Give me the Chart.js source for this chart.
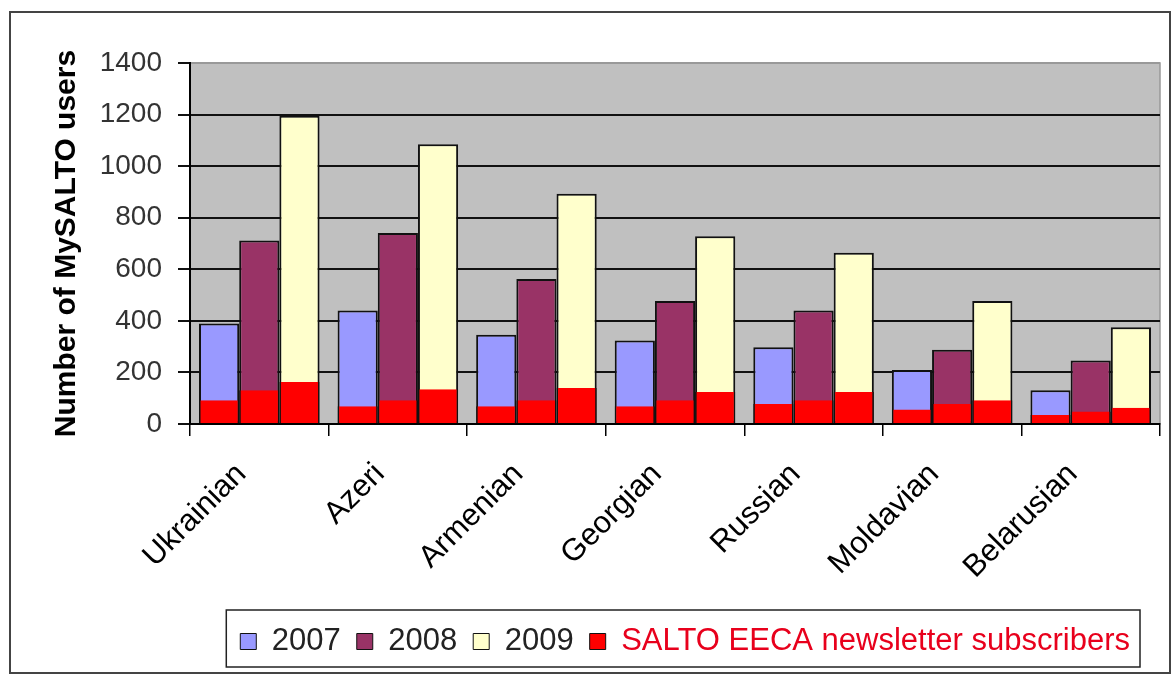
<!DOCTYPE html>
<html>
<head>
<meta charset="utf-8">
<script src="https://cdn.jsdelivr.net/npm/chart.js@4.4.1/dist/chart.umd.min.js"></script>
<style>
  html, body { margin: 0; padding: 0; background: #fff; }
  #wrap { position: relative; width: 1176px; height: 675px; }
</style>
</head>
<body>
<div id="wrap"><canvas id="chart"></canvas></div>
<script>
// Data
const categories = ['Ukrainian', 'Azeri', 'Armenian', 'Georgian', 'Russian', 'Moldavian', 'Belarusian'];
const users2007 = [390, 440, 346, 324, 298, 209, 131];
const users2008 = [712, 741, 562, 477, 440, 288, 246];
const users2009 = [1195, 1085, 893, 728, 664, 477, 375];
const subs2007 = [92, 69, 69, 69, 78, 56, 35];
const subs2008 = [131, 92, 92, 92, 92, 78, 48];
const subs2009 = [163, 135, 140, 124, 124, 92, 63];
const yTicks = [0, 200, 400, 600, 800, 1000, 1200, 1400];

const FONT = '"Liberation Sans", Arial, sans-serif';
const RED = '#ff0000';

// grey plot area, outer frame and the box round the legend
const framePlugin = {
    id: 'frame',
    afterLayout(chart) {
        // pull the legend row in a little from the right edge
        chart.legend.right -= 14;
    },
    beforeDraw(chart) {
        const {ctx, chartArea: a} = chart;
        ctx.save();
        ctx.strokeStyle = '#444';
        ctx.lineWidth = 2;
        ctx.strokeRect(10, 12, 1160, 661);
        ctx.fillStyle = '#c0c0c0';
        ctx.fillRect(a.left, a.top, a.right - a.left, a.bottom - a.top);
        ctx.strokeStyle = '#999';
        ctx.lineWidth = 1.5;
        ctx.strokeRect(a.left, a.top, a.right - a.left, a.bottom - a.top);
        ctx.restore();
    },
    afterDraw(chart) {
        const lg = chart.legend;
        const pad = lg.options.labels.padding;
        const left = lg.right - lg.lineWidths[0] - 14;
        const right = lg.right - pad + 10;
        const {ctx} = chart;
        ctx.save();
        ctx.strokeStyle = '#222';
        ctx.lineWidth = 1.5;
        ctx.strokeRect(left, lg.top, right - left, lg.height);
        ctx.restore();
    }
};

const redBorder = {left: 1.5, right: 1.5, top: 0, bottom: 0};

const ctx = document.getElementById('chart').getContext('2d');
const chart = new Chart(ctx, {
    type: 'bar',
    data: {
        labels: categories,
        datasets: [
            // red subscriber parts first so they are drawn on top of the year bars
            {label: 'SALTO EECA newsletter subscribers', data: subs2007, stack: 'a', backgroundColor: RED,
             borderColor: '#111', borderWidth: redBorder, borderSkipped: false},
            {label: 'subs 2008', data: subs2008, stack: 'b', backgroundColor: RED,
             borderColor: '#111', borderWidth: redBorder, borderSkipped: false},
            {label: 'subs 2009', data: subs2009, stack: 'c', backgroundColor: RED,
             borderColor: '#111', borderWidth: redBorder, borderSkipped: false},
            {label: '2007', data: users2007, stack: 'a', backgroundColor: '#9999ff', borderColor: '#111', borderWidth: 2, borderSkipped: false},
            {label: '2008', data: users2008, stack: 'b', backgroundColor: '#993366', borderColor: '#111', borderWidth: 2, borderSkipped: false},
            {label: '2009', data: users2009, stack: 'c', backgroundColor: '#ffffcc', borderColor: '#111', borderWidth: 2, borderSkipped: false}
        ]
    },
    options: {
        responsive: true,
        maintainAspectRatio: false,
        animation: false,
        events: [],
        categoryPercentage: 0.87,
        barPercentage: 1.0,
        layout: {padding: {left: 40, top: 63, right: 16, bottom: 8}},
        scales: {
            x: {
                afterFit: s => { s.height = 186; },
                grid: {display: true, drawOnChartArea: false, drawTicks: true, tickLength: 12, color: '#000', lineWidth: 1.5, offset: true},
                border: {display: true, color: '#000', width: 2},
                ticks: {
                    minRotation: 45, maxRotation: 45, padding: 20, labelOffset: -18,
                    color: '#000', font: {family: FONT, size: 31}
                }
            },
            y: {
                stacked: false,
                min: 0, max: 1400,
                afterFit: s => { s.width = 150; },
                afterBuildTicks: s => { s.ticks = yTicks.map(v => ({value: v})); },
                grid: {
                    color: c => (c.tick && c.tick.value === 1400 ? '#999' : '#111'),
                    tickColor: '#111', lineWidth: 2, tickLength: 12
                },
                border: {display: true, color: '#000', width: 2},
                ticks: {
                    padding: 16, color: '#333', font: {family: FONT, size: 28},
                    callback: v => String(v)
                },
                title: {
                    display: true, text: 'Number of MySALTO users',
                    color: '#000', font: {family: FONT, size: 30, weight: 'bold'},
                    padding: {top: 9, bottom: 0}
                }
            }
        },
        plugins: {
            tooltip: {enabled: false},
            legend: {
                position: 'bottom',
                align: 'end',
                labels: {
                    boxWidth: 16, boxHeight: 16, padding: 16,
                    color: '#222', font: {family: FONT, size: 31},
                    generateLabels: chart => {
                        const items = Chart.defaults.plugins.legend.labels.generateLabels(chart);
                        const red = items[0];
                        red.fontColor = '#e8001c';
                        red.strokeStyle = '#111';
                        red.lineWidth = 1;
                        items.slice(3).forEach(it => { it.lineWidth = 1; });
                        return [items[3], items[4], items[5], red];
                    }
                }
            }
        }
    },
    plugins: [framePlugin]
});
</script>
</body>
</html>
